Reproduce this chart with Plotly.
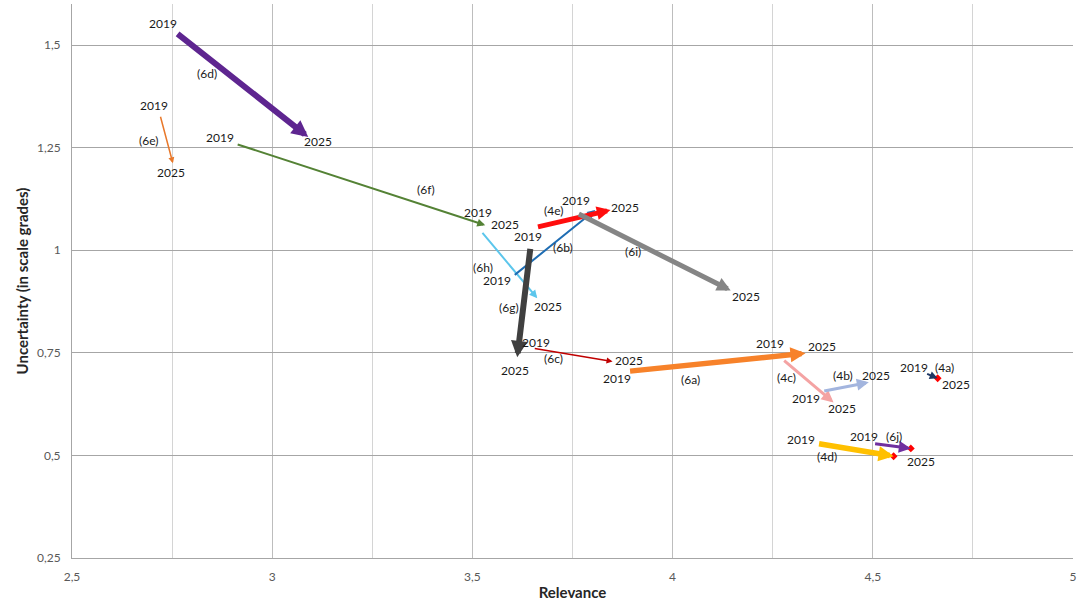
import plotly.graph_objects as go

# ---- data ----
ids = ["(6d)", "(6e)", "(6f)", "(6h)", "(6b)", "(4e)", "(6i)", "(6g)", "(6c)",
       "(6a)", "(4c)", "(4b)", "(4a)", "(4d)", "(6j)"]
rel_2019 = [2.76, 2.72, 2.91, 3.522, 3.602, 3.66, 3.762, 3.645, 3.652,
            3.89, 4.275, 4.375, 4.632, 4.362, 4.502]
unc_2019 = [1.53, 1.329, 1.259, 1.046, 0.937, 1.056, 1.09, 1.007, 0.761,
            0.705, 0.734, 0.656, 0.70, 0.529, 0.529]
rel_2025 = [3.09, 2.752, 3.532, 3.662, 3.807, 3.845, 4.145, 3.612, 3.85,
            4.332, 4.402, 4.49, 4.662, 4.552, 4.595]
unc_2025 = [1.276, 1.212, 1.061, 0.883, 1.098, 1.098, 0.902, 0.739, 0.729,
            0.749, 0.629, 0.678, 0.688, 0.498, 0.517]
show_2019 = [True, True, True, True, True, False, True, True, True,
             True, True, True, True, True, True]
show_2025 = [True, True, True, True, False, True, True, True, True,
             True, True, True, True, False, True]
end_marker = ["(4a)", "(4d)", "(6j)"]

x_ticks = [2.5, 3, 3.5, 4, 4.5, 5]
x_ticktext = ["2,5", "3", "3,5", "4", "4,5", "5"]
y_ticks = [0.25, 0.5, 0.75, 1, 1.25, 1.5]
y_ticktext = ["0,25", "0,5", "0,75", "1", "1,25", "1,5"]

# ---- styles ----
colors = ["#5e2590", "#e8782a", "#548235", "#5cc6ec", "#1f6db3", "#ff0d0d",
          "#858585", "#404040", "#c00000", "#f7822a", "#f4a3a3", "#a3b5de",
          "#1f3864", "#ffc000", "#7030a0"]
widths = [6, 1.5, 2, 2, 2, 5, 5, 6, 1.5, 5.5, 3, 3, 2, 5.5, 3]
# pixel offsets (dx right, dy up) of the labels
off_2019 = [(-13, 9), (-6, 10), (-16, 6), (-3, 19), (-16, -4), (0, 0), (-1, 13),
            (-2, 11), (3, 6), (-12, -7), (-13, 16), (-17, -7), (-12, 6),
            (-17, 4), (-10, 7)]
off_2025 = [(10, -5), (-2, -9), (20, 1), (11, -8), (0, 0), (14, 3), (15, -6),
            (-2, -13), (16, 1), (16, 7), (8, -6), (7, 7), (18, -6), (0, 0),
            (10, -13)]
off_id = [(-35, 11), (-18, -1), (65, -5), (-26, -3), (9, -4), (-20, 8), (-21, 0),
          (-15, -5), (-19, -4), (-27, -17), (-22, 3), (-3, 11), (13, 8),
          (-29, -7), (2, 9)]

FONT = "Lato, 'Open Sans', sans-serif"
lab_font = dict(family=FONT, size=12, color="#1a1a1a")

fig = go.Figure()

annotations = []
for i, name in enumerate(ids):
    annotations.append(dict(
        x=rel_2025[i], y=unc_2025[i], ax=rel_2019[i], ay=unc_2019[i],
        xref="x", yref="y", axref="x", ayref="y", text="",
        showarrow=True, arrowhead=2, arrowsize=0.55 if widths[i] >= 4 else 0.8,
        arrowwidth=widths[i], arrowcolor=colors[i], standoff=0, startstandoff=0))
    if show_2019[i]:
        annotations.append(dict(x=rel_2019[i], y=unc_2019[i], xref="x", yref="y",
                                text="2019", showarrow=False, font=lab_font,
                                xshift=off_2019[i][0], yshift=off_2019[i][1]))
    if show_2025[i]:
        annotations.append(dict(x=rel_2025[i], y=unc_2025[i], xref="x", yref="y",
                                text="2025", showarrow=False, font=lab_font,
                                xshift=off_2025[i][0], yshift=off_2025[i][1]))
    annotations.append(dict(x=(rel_2019[i] + rel_2025[i]) / 2,
                            y=(unc_2019[i] + unc_2025[i]) / 2,
                            xref="x", yref="y", text=name, showarrow=False,
                            font=lab_font, xshift=off_id[i][0], yshift=off_id[i][1]))

mx = [rel_2025[ids.index(n)] for n in end_marker]
my = [unc_2025[ids.index(n)] for n in end_marker]
fig.add_trace(go.Scatter(x=mx, y=my, mode="markers",
                         marker=dict(symbol="diamond", size=6, color="#ff0000"),
                         showlegend=False, hoverinfo="skip"))

fig.update_layout(
    width=1080, height=603,
    margin=dict(l=72, r=7, t=4, b=45),
    paper_bgcolor="white", plot_bgcolor="white",
    showlegend=False,
    annotations=annotations,
    font=dict(family=FONT, size=12, color="#595959"),
)
fig.update_xaxes(
    range=[2.5, 5], tickvals=x_ticks, ticktext=x_ticktext, automargin=False,
    showgrid=True, gridcolor="#bdbdbd", gridwidth=1,
    minor=dict(dtick=0.25, tick0=2.5, showgrid=True, gridcolor="#d4d4d4"),
    showline=True, linecolor="#a6a6a6", linewidth=1, zeroline=False,
    ticks="", ticklabelstandoff=8,
    title=dict(text="<b>Relevance</b>", font=dict(family=FONT, size=15, color="#262626"),
               standoff=4),
)
fig.update_yaxes(
    range=[0.25, 1.6], tickvals=y_ticks, ticktext=y_ticktext, automargin=False,
    showgrid=True, gridcolor="#a6a6a6", gridwidth=1,
    showline=True, linecolor="#a6a6a6", linewidth=1, zeroline=False,
    ticks="", ticklabelstandoff=8,
    title=dict(text="<b>Uncertainty (in scale grades)</b>",
               font=dict(family=FONT, size=15, color="#262626"), standoff=4),
)

# remove the default 8px page margin so the 1080x603 figure fills the window
fig.write_html("out.html",
               config={"displayModeBar": False},
               post_script="document.body.style.margin='0';"
                           "document.body.style.overflow='hidden';")
